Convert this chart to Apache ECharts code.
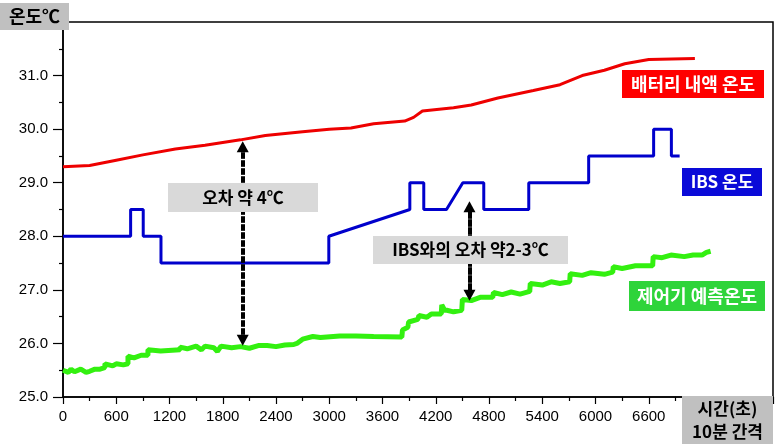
<!DOCTYPE html>
<html><head><meta charset="utf-8">
<script src="https://cdn.jsdelivr.net/npm/echarts@6/dist/echarts.min.js"></script>
<style>html,body{margin:0;padding:0;background:#fff}#c{width:782px;height:444px}</style>
</head><body><div id="c"></div>
<script>
// ---- data (time in seconds, temperature in °C) ----
const batteryT = [0,300,600,900,1266,1600,2000,2280,2700,3000,3245,3500,3850,3950,4050,4400,4600,4900,5300,5600,5850,6100,6330,6600,7120];
const batteryV = [29.3,29.32,29.42,29.52,29.63,29.7,29.8,29.88,29.95,30.0,30.02,30.1,30.15,30.22,30.34,30.4,30.45,30.58,30.72,30.83,31.0,31.1,31.22,31.3,31.32];

const ibsT = [0,762,762,904,904,1104,1104,2995,2995,3908,3908,4065,4065,4321,4505,4741,4741,5248,5248,5923,5923,6655,6655,6855,6855,6948];
const ibsV = [28.0,28.0,28.5,28.5,28.0,28.0,27.5,27.5,28.0,28.5,29.0,29.0,28.5,28.5,29.0,29.0,28.5,28.5,29.0,29.0,29.5,29.5,30.0,30.0,29.5,29.5];

const ctrlT = [0,60,90,130,200,260,300,360,417,470,473,560,600,680,732,732,800,880,957,957,1100,1318,1318,1400,1500,1560,1600,1700,1740,1780,1900,2000,2100,2200,2300,2400,2500,2600,2635,2700,2815,2900,3119,3300,3500,3818,3825,3885,3895,3998,4010,4100,4150,4262,4268,4300,4324,4400,4493,4500,4600,4700,4842,4850,4950,5050,5150,5259,5265,5400,5500,5600,5709,5715,5850,5950,6100,6194,6200,6300,6450,6644,6650,6750,6850,7000,7100,7200,7250,7297];
const ctrlV = [25.5,25.46,25.52,25.47,25.52,25.46,25.48,25.52,25.52,25.55,25.62,25.58,25.62,25.6,25.62,25.76,25.73,25.78,25.78,25.88,25.86,25.88,25.93,25.9,25.95,25.88,25.95,25.92,25.85,25.95,25.92,25.94,25.91,25.96,25.96,25.94,25.97,25.98,26.0,26.08,26.13,26.11,26.14,26.14,26.13,26.12,26.25,26.3,26.4,26.45,26.52,26.49,26.55,26.55,26.72,26.62,26.62,26.59,26.62,26.82,26.8,26.86,26.86,26.95,26.91,26.96,26.92,26.97,27.12,27.09,27.15,27.12,27.15,27.3,27.27,27.32,27.29,27.33,27.43,27.4,27.45,27.45,27.62,27.6,27.65,27.62,27.65,27.65,27.7,27.72];

const xTickLabels = [0,600,1200,1800,2400,3000,3600,4200,4800,5400,6000,6600,7200];
const yTickLabels = [25,26,27,28,29,30,31];

const arrow1 = {t: 2025, from: 26.06, to: 29.67};
const arrow2 = {t: 4580, from: 26.9, to: 28.55};

const zip = (a, b) => a.map((v, i) => [v, b[i]]);

const chart = echarts.init(document.getElementById('c'), null, {renderer: 'canvas'});
const axisFont = {fontFamily: 'Arial, "Liberation Sans", sans-serif', fontSize: 15, color: '#000'};
const korFont = '"Noto Sans CJK KR", sans-serif';

function box(x, y, w, h, fill, text, color, size) {
  return {
    type: 'group', z: 100,
    children: [
      {type: 'rect', shape: {x: x, y: y, width: w, height: h}, style: {fill: fill}, z: 100},
      {type: 'text', x: x + w / 2, y: y + h / 2, z: 101,
        style: {text: text, fill: color, font: 'bold ' + size + 'px ' + korFont,
          textAlign: 'center', textVerticalAlign: 'middle', lineHeight: size + 6}}
    ]
  };
}

const arrowLine = (a) => [{coord: [a.t, a.from]}, {coord: [a.t, a.to]}];

chart.setOption({
  animation: false,
  backgroundColor: '#fff',
  grid: {left: 63, right: 9, top: 22, bottom: 47, show: true, borderColor: '#000', borderWidth: 1.5},
  xAxis: {
    type: 'value', min: 0, max: 8000, interval: 600,
    axisLine: {lineStyle: {color: '#000', width: 1.5}},
    axisTick: {length: 7, lineStyle: {color: '#000', width: 1.2}},
    minorTick: {show: true, splitNumber: 2, length: 4, lineStyle: {color: '#000', width: 1.2}},
    splitLine: {show: false},
    axisLabel: Object.assign({margin: 12, formatter: v => xTickLabels.includes(v) ? String(v) : ''}, axisFont)
  },
  yAxis: {
    type: 'value', min: 25, max: 32, interval: 1,
    axisLine: {show: true, lineStyle: {color: '#000', width: 1.5}},
    axisTick: {show: true, inside: false, length: 10, lineStyle: {color: '#000', width: 1.2}},
    minorTick: {show: true, splitNumber: 2, length: 4, lineStyle: {color: '#000', width: 1.2}},
    splitLine: {show: false},
    axisLabel: Object.assign({margin: 15, formatter: v => yTickLabels.includes(v) ? v.toFixed(1) : ''}, axisFont)
  },
  series: [
    {name: '배터리 내액 온도', type: 'line', data: zip(batteryT, batteryV), showSymbol: false,
      lineStyle: {color: '#ee0000', width: 3}, itemStyle: {color: '#ee0000'}, z: 3},
    {name: 'IBS 온도', type: 'line', data: zip(ibsT, ibsV), showSymbol: false,
      lineStyle: {color: '#0000cc', width: 3}, itemStyle: {color: '#0000cc'}, z: 3},
    {name: '제어기 예측온도', type: 'line', data: zip(ctrlT, ctrlV), showSymbol: false,
      lineStyle: {color: '#33f010', width: 5}, itemStyle: {color: '#33f010'}, z: 2,
      markLine: {
        silent: true, symbol: ['none', 'triangle'], symbolSize: [12, 11],
        label: {show: false},
        lineStyle: {color: '#000', width: 4, type: [4, 4]},
        data: [
          arrowLine(arrow1),
          [{coord: [arrow1.t, arrow1.to]}, {coord: [arrow1.t, arrow1.from]}],
          arrowLine(arrow2),
          [{coord: [arrow2.t, arrow2.to]}, {coord: [arrow2.t, arrow2.from]}]
        ]
      }}
  ],
  graphic: [
    box(0, 3, 69, 27, '#c0c0c0', '온도℃', '#000', 18),
    box(682, 396, 91, 48, '#c0c0c0', '시간(초)\n10분 간격', '#000', 17),
    box(622, 70, 142, 28, '#ff0000', '배터리 내액 온도', '#fff', 18),
    box(682, 168, 80, 28, '#0a0ad8', 'IBS 온도', '#fff', 17),
    box(629, 281, 136, 30, '#2ed43a', '제어기 예측온도', '#fff', 18),
    box(168, 183, 150, 29, '#d9d9d9', '오차 약 4℃', '#000', 17),
    box(373, 236, 195, 28, '#d9d9d9', 'IBS와의 오차 약2-3℃', '#000', 17)
  ]
});
</script></body></html>
